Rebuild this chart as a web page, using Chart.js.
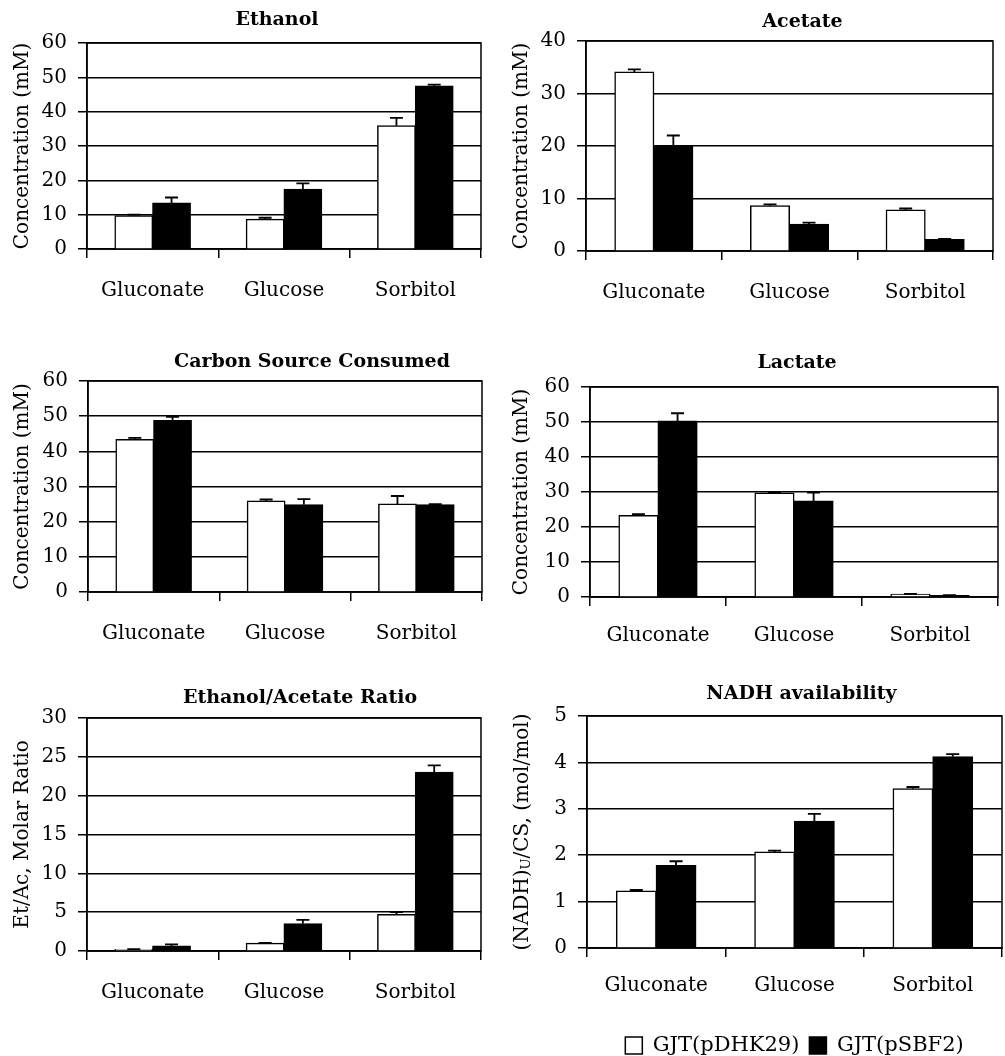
<!DOCTYPE html>
<html lang="en">
<head>
    <meta charset="UTF-8" />
    <title>Fermentation products</title>
    <script src="https://cdn.jsdelivr.net/npm/chart.js"></script>
    <style>
        html, body { margin: 0; padding: 0; background: #fff; overflow: hidden; }
        #page { position: relative; width: 1005px; height: 1056px; overflow: hidden; }
        canvas { position: absolute; }
    </style>
</head>
<body>
<div id="page">
    <canvas id="ethanol" width="495" height="315" style="left:0;top:0"></canvas>
    <canvas id="acetate" width="505" height="315" style="left:500px;top:0"></canvas>
    <canvas id="carbon" width="495" height="315" style="left:0;top:340px"></canvas>
    <canvas id="lactate" width="505" height="315" style="left:500px;top:340px"></canvas>
    <canvas id="ratio" width="495" height="330" style="left:0;top:680px"></canvas>
    <canvas id="nadh" width="505" height="386" style="left:500px;top:680px"></canvas>
</div>

<script>
    // data
    const categories = ['Gluconate', 'Glucose', 'Sorbitol'];
    const seriesNames = ['GJT(pDHK29)', 'GJT(pSBF2)'];

    const ethanolDHK = [9.7, 8.7, 35.9];
    const ethanolDHKErr = [0.3, 0.4, 2.3];
    const ethanolSBF = [13.4, 17.4, 47.5];
    const ethanolSBFErr = [1.6, 1.7, 0.4];

    const acetateDHK = [34.1, 8.6, 7.8];
    const acetateDHKErr = [0.5, 0.3, 0.3];
    const acetateSBF = [20.0, 5.1, 2.2];
    const acetateSBFErr = [2.0, 0.3, 0.1];

    const carbonDHK = [43.4, 25.9, 25.0];
    const carbonDHKErr = [0.4, 0.4, 2.3];
    const carbonSBF = [48.8, 24.8, 24.8];
    const carbonSBFErr = [1.0, 1.6, 0.2];

    const lactateDHK = [23.3, 29.7, 0.8];
    const lactateDHKErr = [0.4, 0.1, 0.1];
    const lactateSBF = [50.3, 27.4, 0.45];
    const lactateSBFErr = [2.2, 2.4, 0.1];

    const ratioDHK = [0.2, 1.0, 4.7];
    const ratioDHKErr = [0.05, 0.05, 0.3];
    const ratioSBF = [0.65, 3.5, 23.0];
    const ratioSBFErr = [0.2, 0.5, 0.9];

    const nadhDHK = [1.23, 2.07, 3.43];
    const nadhDHKErr = [0.02, 0.03, 0.04];
    const nadhSBF = [1.78, 2.73, 4.12];
    const nadhSBFErr = [0.09, 0.16, 0.06];

    const FONT = "'DejaVu Serif', 'Liberation Serif', serif";
    Chart.defaults.font.family = FONT;
    Chart.defaults.color = '#000';

    // frame round the plot area (top + right edges)
    const frame = {
        id: 'frame',
        beforeDatasetsDraw(chart) {
            const { ctx, chartArea: a } = chart;
            ctx.save();
            ctx.strokeStyle = '#000';
            ctx.lineWidth = 1.5;
            ctx.strokeRect(a.left, a.top, a.right - a.left, a.bottom - a.top);
            ctx.restore();
        }
    };

    // one-sided error bars
    const errorBars = {
        id: 'errorBars',
        afterDatasetsDraw(chart) {
            const { ctx } = chart;
            const yScale = chart.scales.y;
            ctx.save();
            ctx.strokeStyle = '#000';
            ctx.lineWidth = 1.8;
            chart.data.datasets.forEach((ds, i) => {
                const meta = chart.getDatasetMeta(i);
                meta.data.forEach((bar, j) => {
                    const top = yScale.getPixelForValue(ds.data[j] + ds.errors[j]);
                    ctx.beginPath();
                    ctx.moveTo(bar.x, bar.y);
                    ctx.lineTo(bar.x, top);
                    ctx.moveTo(bar.x - 6.5, top);
                    ctx.lineTo(bar.x + 6.5, top);
                    ctx.stroke();
                });
            });
            ctx.restore();
        }
    };

    // panel title + rotated y title (with optional subscript part)
    const labels = {
        id: 'labels',
        afterDraw(chart, args, opts) {
            const { ctx, chartArea: a } = chart;
            ctx.save();
            ctx.fillStyle = '#000';
            ctx.font = `bold 19px ${FONT}`;
            ctx.textAlign = 'center';
            ctx.textBaseline = 'middle';
            ctx.fillText(opts.title, (a.left + a.right) / 2 + opts.titleDx, opts.titleY);

            ctx.translate(opts.yTitleX, (a.top + a.bottom) / 2);
            ctx.rotate(-Math.PI / 2);
            ctx.textAlign = 'left';
            const parts = opts.yTitle.map(p => ({
                text: p.text,
                font: p.sub ? `13px ${FONT}` : `20px ${FONT}`,
                dy: p.sub ? 4 : 0
            }));
            let total = 0;
            parts.forEach(p => { ctx.font = p.font; p.w = ctx.measureText(p.text).width; total += p.w; });
            let x = -total / 2;
            parts.forEach(p => {
                ctx.font = p.font;
                ctx.fillText(p.text, x, p.dy);
                x += p.w;
            });
            ctx.restore();
        }
    };

    function makePanel(id, o) {
        const canvas = document.getElementById(id);
        const W = canvas.width, H = canvas.height;
        return new Chart(canvas, {
            type: 'bar',
            data: {
                labels: categories,
                datasets: [
                    { label: seriesNames[0], data: o.white, errors: o.whiteErr,
                      backgroundColor: '#fff', borderColor: '#000', borderWidth: 1.5 },
                    { label: seriesNames[1], data: o.black, errors: o.blackErr,
                      backgroundColor: '#000', borderColor: '#000', borderWidth: 1.5 }
                ]
            },
            options: {
                responsive: false,
                animation: false,
                datasets: { bar: { categoryPercentage: 0.575, barPercentage: 1, inflateAmount: 0.5 } },
                layout: { padding: { top: o.top, right: W - o.right, left: 0, bottom: 0 } },
                scales: {
                    x: {
                        grid: { offset: true, drawOnChartArea: false, color: '#000', lineWidth: 1.5, tickLength: 9 },
                        border: { color: '#000', width: 1.5 },
                        ticks: { font: { size: 20 }, padding: o.xPad, maxRotation: 0 },
                        afterFit(s) { s.height = o.xHeight; }
                    },
                    y: {
                        min: 0, max: o.max,
                        grid: { color: '#000', lineWidth: 1.5, tickLength: 9 },
                        border: { color: '#000', width: 1.5 },
                        ticks: { stepSize: o.step, font: { size: 20 }, padding: 11 },
                        afterFit(s) { s.width = o.left; }
                    }
                },
                plugins: {
                    legend: o.legend ? {
                        display: true, position: 'bottom', fullSize: false,
                        labels: { boxWidth: 17, boxHeight: 17, padding: 10, font: { size: 21 }, color: '#000' }
                    } : { display: false },
                    tooltip: { enabled: false },
                    labels: { title: o.title, titleDx: o.titleDx, titleY: o.titleY,
                              yTitle: o.yTitle, yTitleX: o.yTitleX }
                }
            },
            plugins: [frame, errorBars, labels]
        });
    }

    const conc = [{ text: 'Concentration (mM)' }];

    makePanel('ethanol', {
        white: ethanolDHK, whiteErr: ethanolDHKErr, black: ethanolSBF, blackErr: ethanolSBFErr,
        max: 60, step: 10, left: 87, right: 481, top: 43, xHeight: 315 - 249, xPad: 21,
        title: 'Ethanol', titleDx: -7, titleY: 20, yTitle: conc, yTitleX: 23
    });
    makePanel('acetate', {
        white: acetateDHK, whiteErr: acetateDHKErr, black: acetateSBF, blackErr: acetateSBFErr,
        max: 40, step: 10, left: 86, right: 493, top: 41, xHeight: 315 - 251, xPad: 21,
        title: 'Acetate', titleDx: 13, titleY: 22, yTitle: conc, yTitleX: 22
    });
    makePanel('carbon', {
        white: carbonDHK, whiteErr: carbonDHKErr, black: carbonSBF, blackErr: carbonSBFErr,
        max: 60, step: 10, left: 88, right: 482, top: 41, xHeight: 315 - 252, xPad: 21,
        title: 'Carbon Source Consumed', titleDx: 27, titleY: 22, yTitle: conc, yTitleX: 23
    });
    makePanel('lactate', {
        white: lactateDHK, whiteErr: lactateDHKErr, black: lactateSBF, blackErr: lactateSBFErr,
        max: 60, step: 10, left: 90, right: 498, top: 47, xHeight: 315 - 257, xPad: 18,
        title: 'Lactate', titleDx: 3, titleY: 23, yTitle: conc, yTitleX: 22
    });
    makePanel('ratio', {
        white: ratioDHK, whiteErr: ratioDHKErr, black: ratioSBF, blackErr: ratioSBFErr,
        max: 30, step: 5, left: 87, right: 481, top: 38, xHeight: 330 - 271, xPad: 21,
        title: 'Ethanol/Acetate Ratio', titleDx: 16, titleY: 18,
        yTitle: [{ text: 'Et/Ac, Molar Ratio' }], yTitleX: 23
    });
    makePanel('nadh', {
        white: nadhDHK, whiteErr: nadhDHKErr, black: nadhSBF, blackErr: nadhSBFErr,
        max: 5, step: 1, left: 87, right: 502, top: 36, xHeight: 386 - 268 - 41, xPad: 17,
        title: 'NADH availability', titleDx: 7, titleY: 14, legend: true,
        yTitle: [{ text: '(NADH)' }, { text: 'U', sub: true }, { text: '/CS, (mol/mol)' }], yTitleX: 23
    });
</script>
</body>
</html>
